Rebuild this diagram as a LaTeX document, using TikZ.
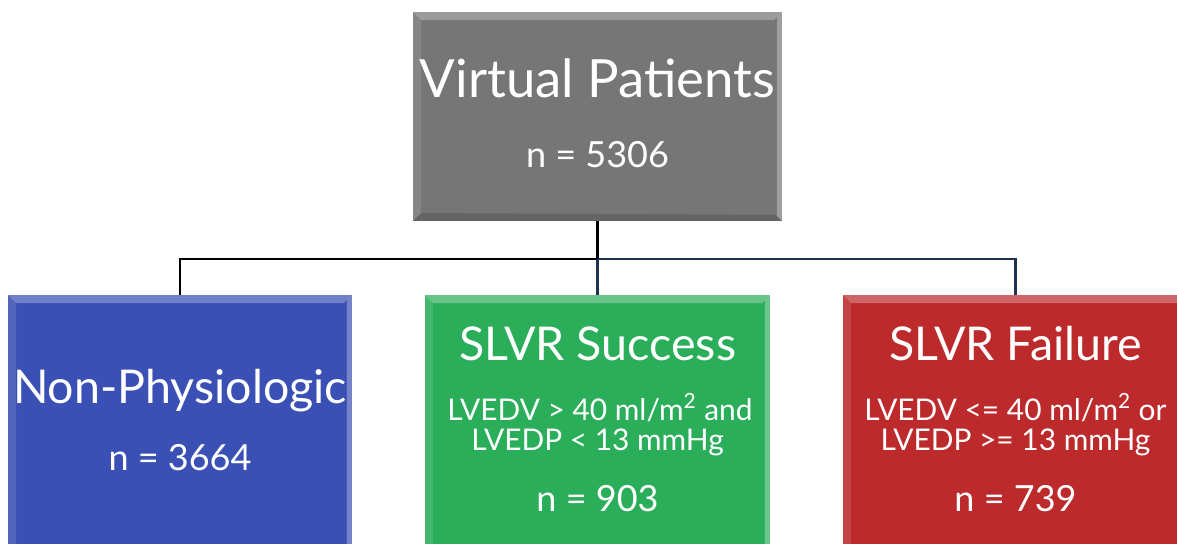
\documentclass[tikz,border=0pt]{standalone}
\usepackage{fontspec}
\setmainfont{Lato}
\usetikzlibrary{positioning}

\definecolor{vpgray}{HTML}{767676}
\definecolor{npblue}{HTML}{3A50B4}
\definecolor{okgreen}{HTML}{2BAE5A}
\definecolor{failred}{HTML}{BC2A2C}
\definecolor{linenavy}{HTML}{1F3350}

\tikzset{
  box/.style={rectangle, fill=#1, inner sep=0pt, minimum height=5.5cm,
    path picture={
      \fill[white,opacity=.28] (path picture bounding box.north west) -- (path picture bounding box.north east)
        -- ++(-.16cm,-.16cm) -- ([shift={(.16cm,-.16cm)}]path picture bounding box.north west) -- cycle;
      \fill[white,opacity=.12] (path picture bounding box.north west) -- (path picture bounding box.south west)
        -- ++(.16cm,.16cm) -- ([shift={(.16cm,-.16cm)}]path picture bounding box.north west) -- cycle;
      \fill[white,opacity=.3] (path picture bounding box.north east) -- (path picture bounding box.south east)
        -- ++(-.1cm,.1cm) -- ([shift={(-.1cm,-.1cm)}]path picture bounding box.north east) -- cycle;
      \fill[black,opacity=.15] (path picture bounding box.south west) -- (path picture bounding box.south east)
        -- ++(-.12cm,.12cm) -- ([shift={(.16cm,.16cm)}]path picture bounding box.south west) -- cycle;
    }},
  title/.style={text=white, anchor=base, inner sep=0pt, font=\fontsize{30}{32}\selectfont},
  head/.style={text=white, anchor=base, inner sep=0pt, font=\fontsize{26.5}{28}\selectfont},
  count/.style={text=white, anchor=base, inner sep=0pt, font=\fontsize{20.5}{22}\selectfont},
  rule/.style={text=white, anchor=base, inner sep=0pt, font=\fontsize{17}{19}\selectfont},
  link/.style={line width=1.7pt}
}

\begin{document}
\begin{tikzpicture}[x=0.02cm, y=-0.02cm]
  \useasboundingbox (0,0) rectangle (1177,544);

  % boxes
  \node[box=vpgray, minimum width=7.38cm, minimum height=4.18cm] (vp) at (597.5,116.5) {};
  \node[box=npblue, minimum width=6.88cm] (np) at (180,432.5) {};
  \node[box=okgreen, minimum width=6.9cm] (ok) at (597.5,432.5) {};
  \node[box=failred, minimum width=6.9cm] (fail) at (1015.5,432.5) {};

  % texts
  \node[title] (vptitle) at (597.5,98) {Virtual Patients};
  \node[count] (vpn) at (597.5,168) {n = 5306};

  \node[head] (nptitle) at (180,403) {Non-Physiologic};
  \node[count] (npn) at (180,470) {n = 3664};

  \node[head] (oktitle) at (597.5,360) {SLVR Success};
  \node[rule] (okrulea) at (600,420) {LVEDV > 40 ml/m\textsuperscript{2} and};
  \node[rule] (okruleb) at (597.5,450) {LVEDP < 13 mmHg};
  \node[count] (okn) at (597.5,511) {n = 903};

  \node[head] (failtitle) at (1015.5,360) {SLVR Failure};
  \node[rule] (failrulea) at (1015.5,420) {LVEDV <= 40 ml/m\textsuperscript{2} or};
  \node[rule] (failruleb) at (1015.5,450) {LVEDP >= 13 mmHg};
  \node[count] (failn) at (1015.5,511) {n = 739};

  % connectors
  \coordinate (bus) at (597.5,259);
  \draw[link] (vp.south) -- (bus);
  \draw[link, black] (bus) -| (np.north);
  \draw[link, linenavy] (bus) -| (fail.north);
  \draw[link, linenavy] (bus) -- (ok.north);
\end{tikzpicture}
\end{document}
